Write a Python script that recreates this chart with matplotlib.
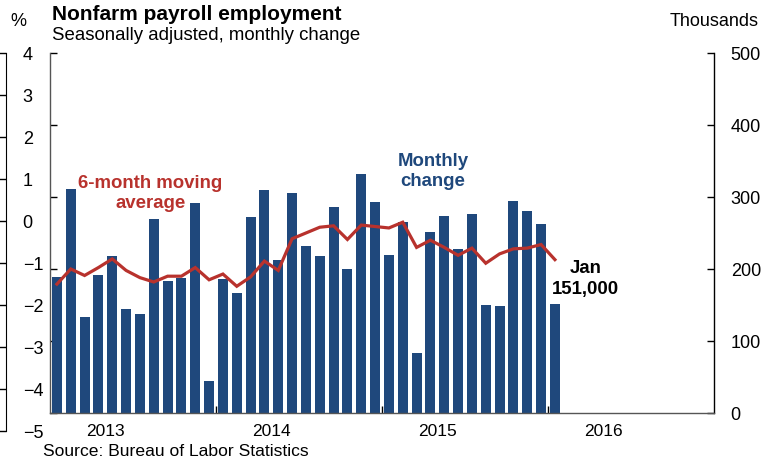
import matplotlib
matplotlib.use("Agg")
import matplotlib.pyplot as plt
import numpy as np

plt.rcParams['font.family'] = ['Liberation Sans', 'DejaVu Sans']

# Monthly change in nonfarm payrolls, thousands (Jan 2013 - Jan 2016)
monthly_change = [189, 311, 134, 191, 218, 144, 138, 269, 184, 188, 291, 44,
                  186, 167, 272, 310, 212, 306, 232, 218, 286, 200, 332, 293,
                  220, 265, 83, 251, 273, 228, 277, 150, 149, 295, 280, 262,
                  151]
# 6-month moving average, thousands
moving_avg = [179, 200, 191, 202, 214, 198, 188, 182, 190, 190, 202, 185,
              193, 176, 189, 211, 198, 242, 250, 258, 260, 241, 261, 259,
              257, 265, 230, 240, 230, 219, 229, 208, 221, 228, 229, 234,
              213]
year_labels = ["2013", "2014", "2015", "2016"]
left_ticks = [4, 3, 2, 1, 0, -1, -2, -3, -4, -5]
right_ticks = [0, 100, 200, 300, 400, 500]

navy = "#1f487c"
red = "#b8322d"

W, H = 783, 463
fig = plt.figure(figsize=(W / 100, H / 100), dpi=100)

# main panel: x from 50 to 714 px, y from 413 (0) to 53 (500)
ax = fig.add_axes([50 / W, (H - 413) / H, (714 - 50) / W, (413 - 53) / H])
x = np.arange(len(monthly_change)) + 0.5
ax.bar(x, monthly_change, width=0.72, color=navy, zorder=2)
ax.plot(x, moving_avg, color=red, lw=2.3, zorder=3, solid_joinstyle='miter')

ax.set_xlim(0, 48)
ax.set_ylim(0, 500)
ax.spines['top'].set_visible(False)
for s in ['left', 'right', 'bottom']:
    ax.spines[s].set_linewidth(1.0)
ax.spines['left'].set_color('#555555')
ax.spines['bottom'].set_color('#555555')

ax.set_yticks(right_ticks)
ax.yaxis.set_tick_params(which='major', direction='in', length=5, width=1,
                         left=True, right=True, labelleft=False,
                         labelright=True, labelsize=13, pad=12)

# year boundary ticks, labels placed a third into each year
ax.set_xticks([12, 24, 36])
ax.set_xticklabels([])
ax.tick_params(axis='x', which='major', direction='in', length=5, width=1)
ax.set_xticks([4, 16, 28, 40], minor=True)
ax.set_xticklabels(year_labels, minor=True)
ax.tick_params(axis='x', which='minor', length=0, labelsize=12.5, pad=8)

# annotations
ax.text(7.25, 319, "6-month moving", color=red, fontsize=13.4,
        fontweight='bold', ha='center', va='center')
ax.text(7.25, 291, "average", color=red, fontsize=13.4,
        fontweight='bold', ha='center', va='center')
ax.text(27.7, 349, "Monthly", color=navy, fontsize=13.4,
        fontweight='bold', ha='center', va='center')
ax.text(27.7, 321, "change", color=navy, fontsize=13.4,
        fontweight='bold', ha='center', va='center')
ax.text(38.7, 201, "Jan", color='black', fontsize=13.4,
        fontweight='bold', ha='center', va='center')
ax.text(38.7, 172, "151,000", color='black', fontsize=13.4,
        fontweight='bold', ha='center', va='center')

# cropped left panel axis (percent scale)
ax2 = fig.add_axes([0, (H - 431) / H, 6 / W, (431 - 53) / H])
ax2.set_ylim(-5, 4)
ax2.set_xticks([])
for s in ['left', 'top', 'bottom']:
    ax2.spines[s].set_visible(False)
ax2.patch.set_visible(False)
ax2.set_yticks(left_ticks)
ax2.yaxis.tick_right()
ax2.tick_params(axis='y', direction='in', length=5, width=1, labelsize=13,
                pad=12)

# titles and notes
fig.text(52 / W, 1 - 14 / H, "Nonfarm payroll employment", fontsize=15,
         fontweight='bold', ha='left', va='center')
fig.text(52 / W, 1 - 35 / H, "Seasonally adjusted, monthly change",
         fontsize=13.4, ha='left', va='center')
fig.text(18 / W, 1 - 22 / H, "%", fontsize=13, ha='center', va='center')
fig.text(714 / W, 1 - 22 / H, "Thousands", fontsize=13, ha='center',
         va='center')
fig.text(43 / W, 1 - 451 / H, "Source: Bureau of Labor Statistics",
         fontsize=12.6, ha='left', va='center')

fig.savefig("out.png", dpi=100)
